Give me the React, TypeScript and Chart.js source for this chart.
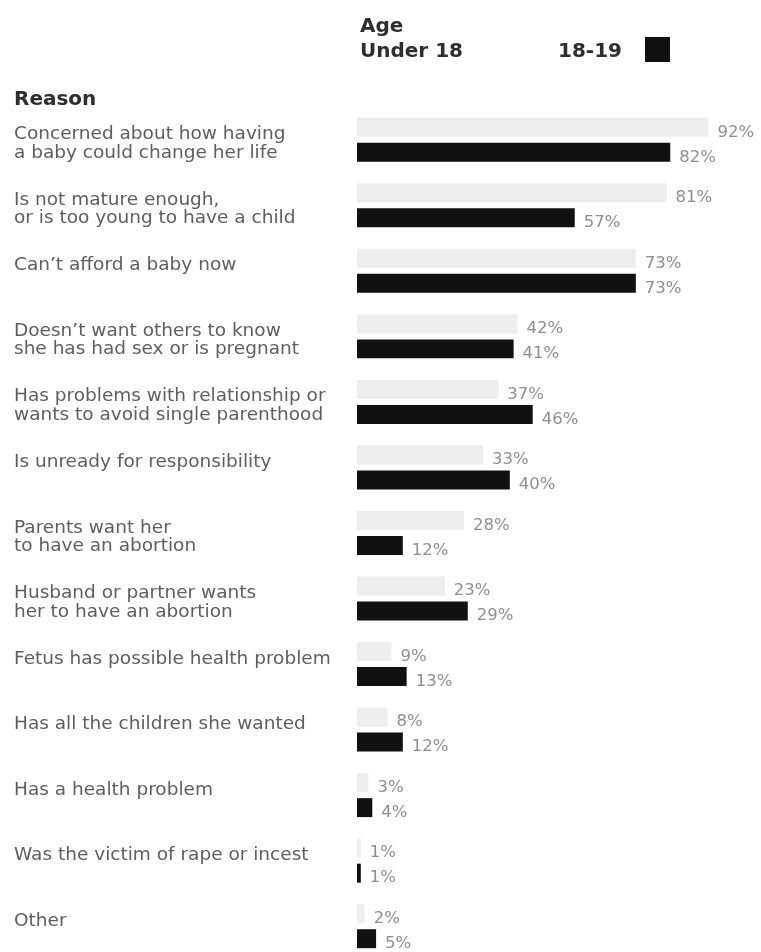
import React, { useEffect, useRef } from "react";
import { Chart, registerables } from "chart.js";

Chart.register(...registerables);

const reasons: string[][] = [
  ["Concerned about how having", "a baby could change her life"],
  ["Is not mature enough,", "or is too young to have a child"],
  ["Can’t afford a baby now", ""],
  ["Doesn’t want others to know", "she has had sex or is pregnant"],
  ["Has problems with relationship or", "wants to avoid single parenthood"],
  ["Is unready for responsibility", ""],
  ["Parents want her", "to have an abortion"],
  ["Husband or partner wants", "her to have an abortion"],
  ["Fetus has possible health problem", ""],
  ["Has all the children she wanted", ""],
  ["Has a health problem", ""],
  ["Was the victim of rape or incest", ""],
  ["Other", ""],
];
const seriesNames = ["Under 18", "18-19"];
const under18 = [92, 81, 73, 42, 37, 33, 28, 23, 9, 8, 3, 1, 2];
const age18to19 = [82, 57, 73, 41, 46, 40, 12, 29, 13, 12, 4, 1, 5];

const FONT = "'DejaVu Sans', sans-serif";

const valueLabels = {
  id: "valueLabels",
  afterDatasetsDraw(chart: any) {
    const ctx = chart.ctx;
    ctx.save();
    ctx.font = `16.5px ${FONT}`;
    ctx.fillStyle = "#8e8e8e";
    ctx.textAlign = "left";
    ctx.textBaseline = "middle";
    chart.data.datasets.forEach((ds: any, di: number) => {
      const meta = chart.getDatasetMeta(di);
      meta.data.forEach((el: any, i: number) => {
        ctx.fillText(`${ds.data[i]}%`, el.x + 9, el.y + 5);
      });
    });
    ctx.restore();
  },
};

export default function App() {
  const ref = useRef<HTMLCanvasElement | null>(null);

  useEffect(() => {
    if (!ref.current) return;
    const chart = new Chart(ref.current, {
      type: "bar",
      data: {
        labels: reasons,
        datasets: [
          {
            label: seriesNames[0],
            data: under18,
            backgroundColor: "#eeeeee",
            categoryPercentage: 0.762,
            barPercentage: 0.76,
          },
          {
            label: seriesNames[1],
            data: age18to19,
            backgroundColor: "#111111",
            categoryPercentage: 0.762,
            barPercentage: 0.76,
          },
        ],
      },
      options: {
        indexAxis: "y",
        animation: false,
        responsive: false,
        devicePixelRatio: 1,
        layout: { padding: { left: 14, right: 22, top: 107, bottom: 1 } },
        plugins: {
          legend: { display: false },
          tooltip: { enabled: false },
          title: { display: false },
        },
        scales: {
          x: {
            min: 0,
            max: 100,
            display: false,
          },
          y: {
            grid: { display: false },
            border: { display: false },
            ticks: {
              crossAlign: "far",
              color: "#5e5e5e",
              font: { family: FONT, size: 18.5, lineHeight: 1.0 },
              padding: 0,
              labelOffset: 4,
            },
            afterFit(scale: any) {
              scale.width = 343;
              scale.paddingTop = 0;
              scale.paddingBottom = 0;
            },
          },
        },
      },
      plugins: [valueLabels],
    });
    return () => chart.destroy();
  }, []);

  const head: React.CSSProperties = {
    position: "absolute",
    fontFamily: FONT,
    fontWeight: "bold",
    fontSize: 20,
    color: "#2e2e2e",
    lineHeight: "24px",
    whiteSpace: "nowrap",
  };

  return (
    <div
      style={{
        position: "absolute",
        left: 0,
        top: 0,
        width: 761,
        height: 952,
        overflow: "hidden",
        background: "#ffffff",
      }}
    >
      <canvas ref={ref} width={761} height={960} style={{ display: "block" }} />
      <div style={{ ...head, left: 360, top: 13 }}>Age</div>
      <div style={{ ...head, left: 360, top: 38 }}>{seriesNames[0]}</div>
      <div style={{ ...head, left: 558, top: 38 }}>{seriesNames[1]}</div>
      <div
        style={{
          position: "absolute",
          left: 645,
          top: 37,
          width: 25,
          height: 25,
          background: "#111111",
        }}
      />
      <div style={{ ...head, left: 14, top: 86 }}>Reason</div>
    </div>
  );
}
